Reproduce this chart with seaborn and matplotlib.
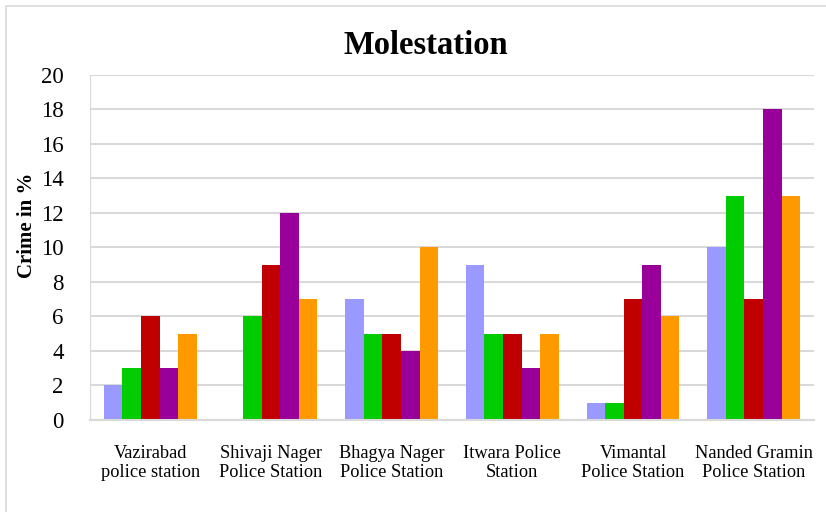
import matplotlib
matplotlib.use("Agg")
import matplotlib.pyplot as plt
import seaborn as sns
import pandas as pd
from matplotlib.patches import Rectangle

categories = ["Vazirabad\npolice station", "Shivaji Nager\nPolice Station", "Bhagya Nager\nPolice Station",
              "Itwara Police\nStation", "Vimantal\nPolice Station", "Nanded Gramin\nPolice Station"]
series_names = ["S1", "S2", "S3", "S4", "S5"]
s1 = [2, 0, 7, 9, 1, 10]
s2 = [3, 6, 5, 5, 1, 13]
s3 = [6, 9, 5, 5, 7, 7]
s4 = [3, 12, 4, 3, 9, 18]
s5 = [5, 7, 10, 5, 6, 13]
colors = ["#9999FF", "#00CC00", "#C00000", "#990099", "#FF9900"]
yticks = [0, 2, 4, 6, 8, 10, 12, 14, 16, 18, 20]

rows = []
for name, vals in zip(series_names, [s1, s2, s3, s4, s5]):
    for c, v in zip(categories, vals):
        rows.append({"cat": c, "series": name, "val": v})
df = pd.DataFrame(rows)

sns.set_style("white")
plt.rcParams["font.family"] = ["Liberation Serif", "DejaVu Serif"]
plt.rcParams["text.color"] = "black"
plt.rcParams["xtick.color"] = "black"
plt.rcParams["ytick.color"] = "black"
plt.rcParams["axes.labelcolor"] = "black"

fig = plt.figure(figsize=(8.26, 5.12), dpi=100)
ax = fig.add_axes([90 / 826, 0.180, 724 / 826, 0.674])
sns.barplot(data=df, x="cat", y="val", hue="series", palette=colors, width=0.77,
            ax=ax, legend=False, saturation=1, linewidth=0)

ax.set_ylim(0, 20)
ax.set_yticks(yticks)
ax.set_yticklabels([str(t) for t in yticks], fontsize=16.5)
ax.set_xlim(-0.5, 5.5)
ax.tick_params(axis="x", labelsize=13.2, length=0, pad=18)
ax.tick_params(axis="y", length=0, pad=19)
ax.yaxis.grid(True, color="#d9d9d9", linewidth=1.5)
ax.set_axisbelow(True)
for s in ["top", "right"]:
    ax.spines[s].set_visible(False)
ax.spines["left"].set_color("#d9d9d9")
ax.spines["bottom"].set_color("#d9d9d9")
ax.spines["bottom"].set_linewidth(1.5)
ax.set_xlabel("")
ax.set_ylabel("")
fig.text(27 / 826, 1 - 225 / 512, "Crime in %", rotation=90, ha="center", va="center",
         fontsize=15, fontweight="bold")
fig.text(426 / 826, 1 - 45 / 512, "Molestation", ha="center", va="center", fontsize=23.5, fontweight="bold")

fig.patches.append(Rectangle((6 / 826, -0.01), 1.0, 1 - 6 / 512 + 0.01, transform=fig.transFigure,
                             fill=False, edgecolor="#d9d9d9", linewidth=1.2))

fig.savefig("out.png", dpi=100)
